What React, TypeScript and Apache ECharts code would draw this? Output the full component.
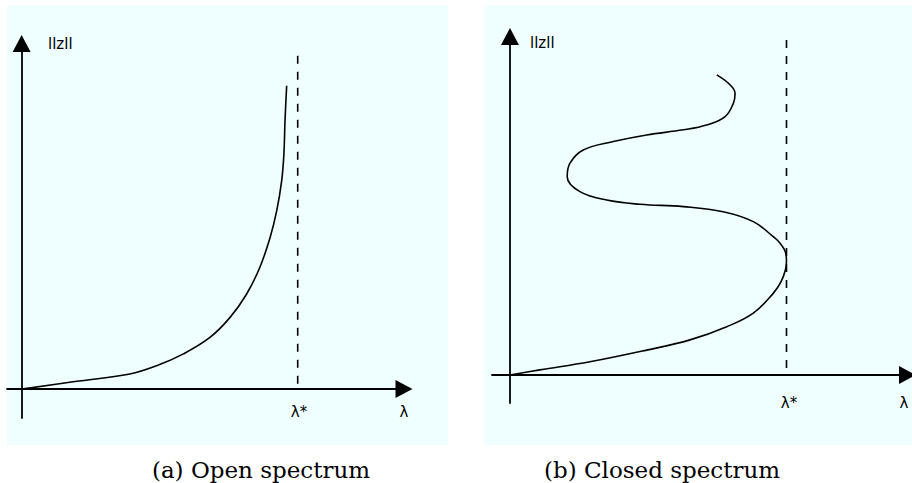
import React, { useEffect, useRef } from "react";
import * as echarts from "echarts";

// Panel (a): open spectrum — λ (x) and ||z|| (y), λ* normalised to 1
const openLambda = [0, 0.193, 0.392, 0.489, 0.586, 0.682, 0.755, 0.815, 0.863, 0.9, 0.924, 0.942, 0.95, 0.954, 0.96];
const openNorm = [0, 0.025, 0.05, 0.077, 0.116, 0.17, 0.236, 0.313, 0.401, 0.499, 0.587, 0.686, 0.774, 0.883, 0.998];

// Panel (b): closed spectrum
const closedLambda = [0, 0.108, 0.289, 0.494, 0.651, 0.784, 0.88, 0.952, 0.98, 0.996, 1.0, 0.996, 0.976, 0.952, 0.88, 0.771, 0.627, 0.47, 0.35, 0.253, 0.207, 0.217, 0.265, 0.374, 0.494, 0.627, 0.711, 0.778, 0.808, 0.814, 0.796, 0.748];
const closedNorm = [0, 0.017, 0.044, 0.083, 0.117, 0.161, 0.206, 0.272, 0.31, 0.35, 0.38, 0.41, 0.44, 0.461, 0.511, 0.544, 0.561, 0.569, 0.583, 0.611, 0.661, 0.706, 0.75, 0.778, 0.8, 0.817, 0.833, 0.861, 0.906, 0.939, 0.967, 1.0];

const lambdaStar = 1;
const openStarRange = [0.018, 1.113];
const closedStarRange = [0.023, 1.14];

const yLabel = "llzll";
const starLabel = "λ*";
const xLabel = "λ";
const captions = ["(a) Open spectrum", "(b) Closed spectrum"];

const BG = "#effefe";
const INK = "#000000";

export default function App() {
  const ref = useRef<HTMLDivElement>(null);
  useEffect(() => {
    if (!ref.current) return;
    const chart = echarts.init(ref.current, null, { renderer: "svg" });

    const zip = (xs: number[], ys: number[]) => xs.map((x, i) => [x, ys[i]]);

    const axisCommon = {
      type: "value" as const,
      axisTick: { show: false },
      axisLabel: { show: false },
      splitLine: { show: false },
      axisLine: {
        show: true,
        onZero: true,
        symbol: ["none", "triangle"],
        symbolSize: [18, 17],
        lineStyle: { color: INK, width: 1.8 },
      },
    };

    const sansText = (text: string, x: number, y: number, align = "center") => ({
      type: "text",
      x,
      y,
      z: 10,
      style: {
        text,
        fill: INK,
        font: '15px "DejaVu Sans", sans-serif',
        textAlign: align,
        textVerticalAlign: "middle",
      },
    });

    const captionText = (text: string, x: number) => ({
      type: "text",
      x,
      y: 470,
      style: {
        text,
        fill: INK,
        font: '23px "DejaVu Serif", serif',
        textAlign: "center",
        textVerticalAlign: "middle",
      },
    });

    const option: any = {
      animation: false,
      backgroundColor: "#ffffff",
      grid: [
        { left: 7, right: 508, top: 43.5, bottom: 65, outerBoundsMode: "none" },
        { left: 492, right: 4.5, top: 36.5, bottom: 80, outerBoundsMode: "none" },
      ],
      xAxis: [
        { ...axisCommon, gridIndex: 0, min: -0.053, max: 1.385 },
        { ...axisCommon, gridIndex: 1, min: -0.065, max: 1.4376 },
      ],
      yAxis: [
        { ...axisCommon, gridIndex: 0, min: -0.095, max: 1.137 },
        { ...axisCommon, gridIndex: 1, min: -0.0933, max: 1.128 },
      ],
      series: [
        {
          type: "line",
          xAxisIndex: 0,
          yAxisIndex: 0,
          data: zip(openLambda, openNorm),
          showSymbol: false,
          smooth: 0.4,
          lineStyle: { color: INK, width: 1.6 },
        },
        {
          type: "line",
          xAxisIndex: 0,
          yAxisIndex: 0,
          data: openStarRange.map((v) => [lambdaStar, v]),
          showSymbol: false,
          lineStyle: { color: INK, width: 1.6, type: [8, 8] },
        },
        {
          type: "line",
          xAxisIndex: 1,
          yAxisIndex: 1,
          data: zip(closedLambda, closedNorm),
          showSymbol: false,
          smooth: 0.4,
          lineStyle: { color: INK, width: 1.6 },
        },
        {
          type: "line",
          xAxisIndex: 1,
          yAxisIndex: 1,
          data: closedStarRange.map((v) => [lambdaStar, v]),
          showSymbol: false,
          lineStyle: { color: INK, width: 1.6, type: [8, 8] },
        },
      ],
      graphic: [
        { type: "rect", z: -10, shape: { x: 7, y: 5, width: 441, height: 440 }, style: { fill: BG } },
        { type: "rect", z: -10, shape: { x: 484, y: 5, width: 428, height: 440 }, style: { fill: BG } },
        sansText(yLabel, 48, 44, "left"),
        sansText(starLabel, 299, 412),
        sansText(xLabel, 404, 412),
        sansText(yLabel, 530, 43, "left"),
        sansText(starLabel, 789, 403),
        sansText(xLabel, 904, 403),
        captionText(captions[0], 261),
        captionText(captions[1], 662),
      ],
    };

    chart.setOption(option);
    return () => chart.dispose();
  }, []);

  return (
    <div
      ref={ref}
      style={{ position: "fixed", left: 0, top: 0, width: 912, height: 483 }}
    />
  );
}
